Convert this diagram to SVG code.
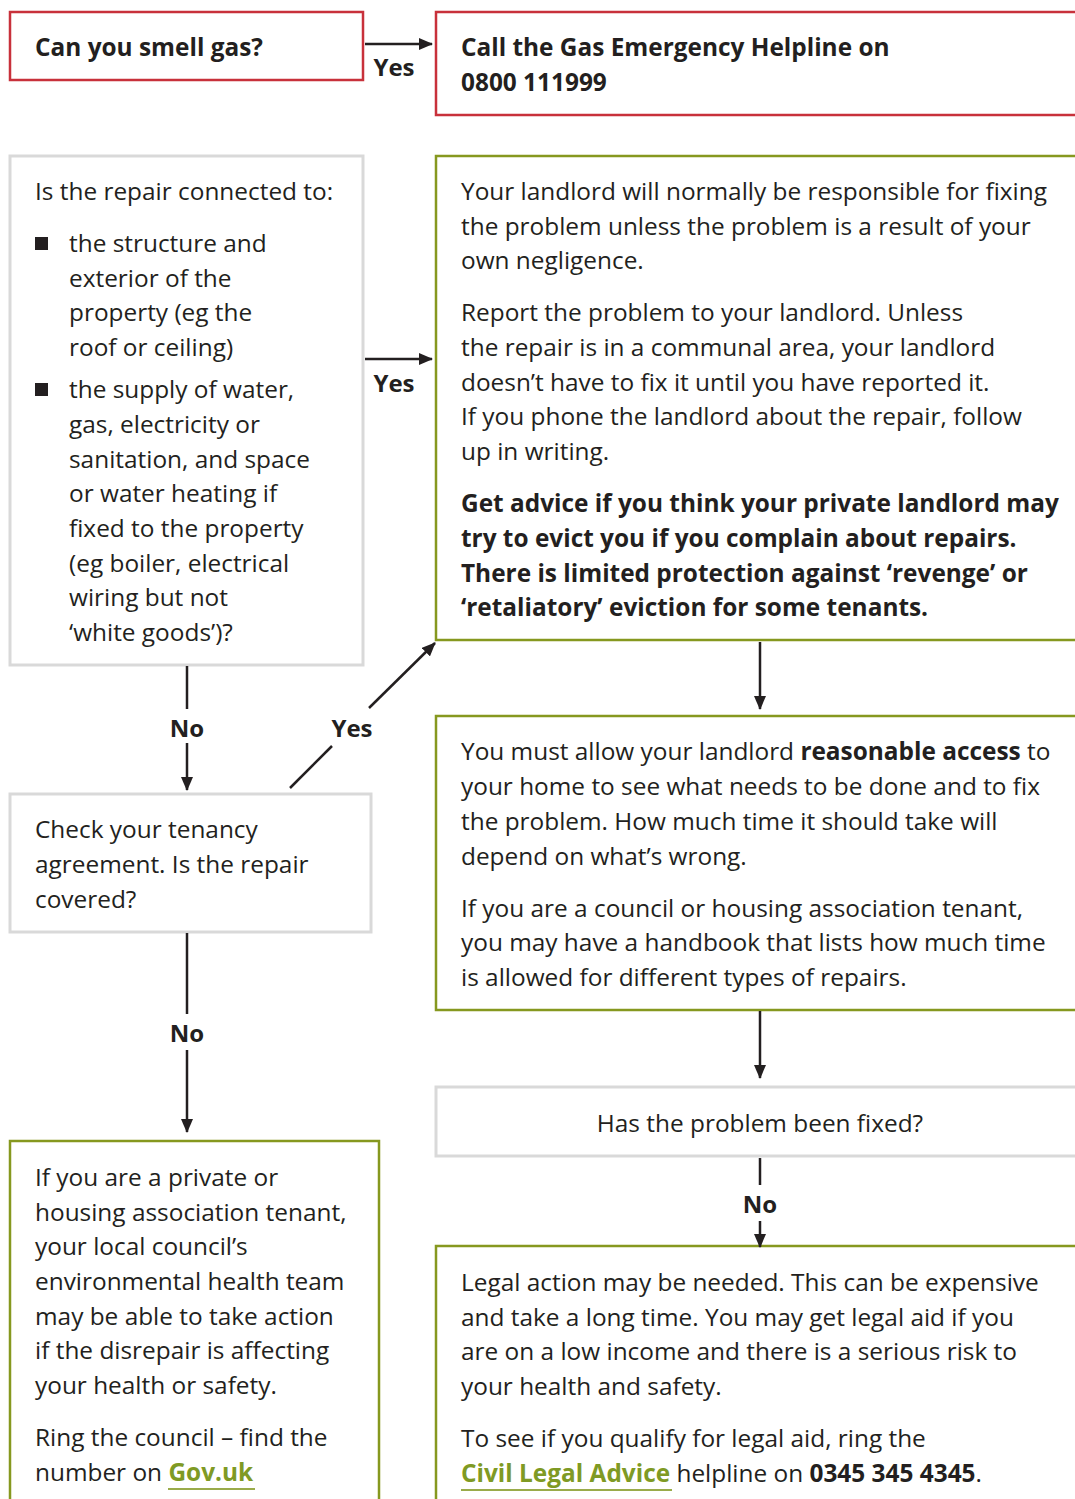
<svg xmlns="http://www.w3.org/2000/svg" width="1075" height="1499" viewBox="0 0 1075 1499">
<style>
text{font-family:"Open Sans","Noto Sans",sans-serif;font-size:24.4px;fill:#231f20}
.b{font-weight:bold}
.red{fill:#fff;stroke:#c8313b;stroke-width:2.5}
.gray{fill:#fff;stroke:#d9d9d9;stroke-width:3}
.green{fill:#fff;stroke:#86981f;stroke-width:2.5}
.lnk{fill:#7f9a24;font-weight:bold}
.con line{stroke:#231f20;stroke-width:2.5}
.lbl{font-weight:bold;text-anchor:middle;font-size:24px}
</style>
<defs>
<marker id="ah" markerWidth="14" markerHeight="12" refX="13" refY="6" orient="auto" markerUnits="userSpaceOnUse">
<path d="M0,0 L14,6 L0,12 Z" fill="#231f20"/>
</marker>
</defs>
<rect width="1075" height="1499" fill="#fff"/>

<g id="n-smell">
<rect class="red" x="10" y="12" width="353" height="68"/>
<text class="b" x="35" y="56">Can you smell gas?</text>
</g>
<g id="n-helpline">
<rect class="red" x="436" y="12" width="660" height="103"/>
<text class="b" x="461" y="56">Call the Gas Emergency Helpline on</text>
<text class="b" x="461" y="91">0800 111999</text>
</g>
<g id="n-repair">
<rect class="gray" x="10" y="156" width="353" height="509"/>
<text x="35" y="200">Is the repair connected to:</text>
<rect x="35" y="237" width="13" height="13" fill="#231f20"/>
<text x="69" y="252">the structure and</text>
<text x="69" y="287">exterior of the</text>
<text x="69" y="321">property (eg the</text>
<text x="69" y="356">roof or ceiling)</text>
<rect x="35" y="383" width="13" height="13" fill="#231f20"/>
<text x="69" y="398">the supply of water,</text>
<text x="69" y="433">gas, electricity or</text>
<text x="69" y="468">sanitation, and space</text>
<text x="69" y="502">or water heating if</text>
<text x="69" y="537">fixed to the property</text>
<text x="69" y="572">(eg boiler, electrical</text>
<text x="69" y="606">wiring but not</text>
<text x="69" y="641">‘white goods’)?</text>
</g>
<g id="n-landlord">
<rect class="green" x="436" y="156" width="660" height="484"/>
<text x="461" y="200">Your landlord will normally be responsible for fixing</text>
<text x="461" y="235">the problem unless the problem is a result of your</text>
<text x="461" y="269">own negligence.</text>
<text x="461" y="321">Report the problem to your landlord. Unless</text>
<text x="461" y="356">the repair is in a communal area, your landlord</text>
<text x="461" y="391">doesn’t have to fix it until you have reported it.</text>
<text x="461" y="425">If you phone the landlord about the repair, follow</text>
<text x="461" y="460">up in writing.</text>
<text class="b" x="461" y="512">Get advice if you think your private landlord may</text>
<text class="b" x="461" y="547">try to evict you if you complain about repairs.</text>
<text class="b" x="461" y="582">There is limited protection against ‘revenge’ or</text>
<text class="b" x="461" y="616">‘retaliatory’ eviction for some tenants.</text>
</g>
<g id="n-tenancy">
<rect class="gray" x="10" y="794" width="361" height="138"/>
<text x="35" y="838">Check your tenancy</text>
<text x="35" y="873">agreement. Is the repair</text>
<text x="35" y="908">covered?</text>
</g>
<g id="n-access">
<rect class="green" x="436" y="716" width="660" height="294"/>
<text x="461" y="760">You must allow your landlord <tspan class="b">reasonable access</tspan> to</text>
<text x="461" y="795">your home to see what needs to be done and to fix</text>
<text x="461" y="830">the problem. How much time it should take will</text>
<text x="461" y="865">depend on what’s wrong.</text>
<text x="461" y="917">If you are a council or housing association tenant,</text>
<text x="461" y="951">you may have a handbook that lists how much time</text>
<text x="461" y="986">is allowed for different types of repairs.</text>
</g>
<g id="n-fixed">
<rect class="gray" x="436" y="1087" width="660" height="69"/>
<text x="760" y="1132" text-anchor="middle">Has the problem been fixed?</text>
</g>
<g id="n-council">
<rect class="green" x="10" y="1141" width="369" height="380"/>
<text x="35" y="1186">If you are a private or</text>
<text x="35" y="1221">housing association tenant,</text>
<text x="35" y="1255">your local council’s</text>
<text x="35" y="1290">environmental health team</text>
<text x="35" y="1325">may be able to take action</text>
<text x="35" y="1359">if the disrepair is affecting</text>
<text x="35" y="1394">your health or safety.</text>
<text x="35" y="1446">Ring the council – find the</text>
<text x="35" y="1481">number on <tspan class="lnk">Gov.uk</tspan></text>
<line x1="168" y1="1489" x2="255" y2="1489" stroke="#9aab4a" stroke-width="2"/>
</g>
<g id="n-legal">
<rect class="green" x="436" y="1246" width="660" height="280"/>
<text x="461" y="1291">Legal action may be needed. This can be expensive</text>
<text x="461" y="1326">and take a long time. You may get legal aid if you</text>
<text x="461" y="1360">are on a low income and there is a serious risk to</text>
<text x="461" y="1395">your health and safety.</text>
<text x="461" y="1447">To see if you qualify for legal aid, ring the</text>
<text x="461" y="1482"><tspan class="lnk">Civil Legal Advice</tspan> helpline on <tspan class="b">0345 345 4345</tspan>.</text>
<line x1="461" y1="1490" x2="672" y2="1490" stroke="#9aab4a" stroke-width="2"/>
</g>

<g id="connectors" class="con">
<line x1="365" y1="44" x2="432" y2="44" marker-end="url(#ah)"/>
<line x1="365" y1="359" x2="432" y2="359" marker-end="url(#ah)"/>
<line x1="187" y1="666" x2="187" y2="709"/>
<line x1="187" y1="743" x2="187" y2="790" marker-end="url(#ah)"/>
<line x1="290" y1="788" x2="332" y2="746"/>
<line x1="369" y1="708" x2="435" y2="643" marker-end="url(#ah)"/>
<line x1="760" y1="642" x2="760" y2="709" marker-end="url(#ah)"/>
<line x1="187" y1="933" x2="187" y2="1014"/>
<line x1="187" y1="1050" x2="187" y2="1132" marker-end="url(#ah)"/>
<line x1="760" y1="1011" x2="760" y2="1078" marker-end="url(#ah)"/>
<line x1="760" y1="1158" x2="760" y2="1185"/>
<line x1="760" y1="1221" x2="760" y2="1247" marker-end="url(#ah)"/>
<text class="lbl" x="394" y="76">Yes</text>
<text class="lbl" x="394" y="392">Yes</text>
<text class="lbl" x="187" y="737">No</text>
<text class="lbl" x="352" y="737">Yes</text>
<text class="lbl" x="187" y="1042">No</text>
<text class="lbl" x="760" y="1213">No</text>
</g>
</svg>
